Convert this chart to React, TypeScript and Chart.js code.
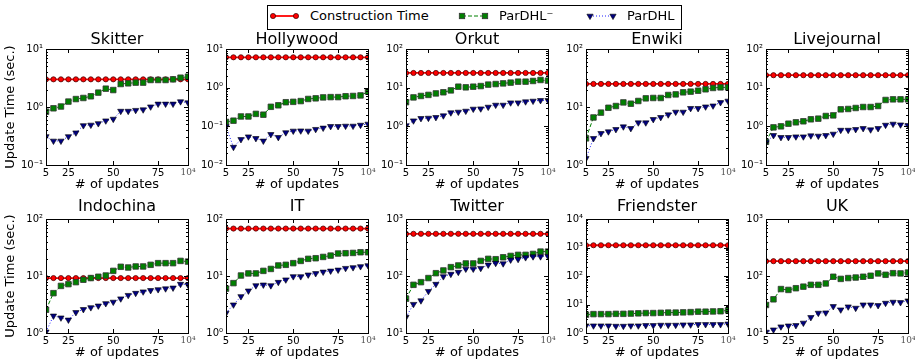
import React, { useEffect, useRef } from "react";
import { Chart, registerables } from "chart.js";
Chart.register(...registerables);
Chart.defaults.font.family = "'DejaVu Sans', sans-serif";
Chart.defaults.color = "#000";

// ---------- data ----------
const xValues = [5, 10, 15, 20, 25, 30, 35, 40, 45, 50, 55, 60, 65, 70, 75, 80, 85, 90, 95, 100];
const xTickValues = [5, 20, 50, 80, 100];
const xTickLabels = ["5", "25", "50", "75", "10⁴"];

const seriesNames = ["Construction Time", "ParDHL⁻", "ParDHL"];
const panelNames = ["Skitter", "Hollywood", "Orkut", "Enwiki", "Livejournal", "Indochina", "IT", "Twitter", "Friendster", "UK"];
const panelYMinExp = [-1, -2, -1, 0, -1, 0, 0, 1, 0, 1];
const panelYMaxExp = [1, 1, 2, 2, 2, 2, 2, 3, 4, 3];

const skitterBuild = [3.0, 3.0, 3.0, 3.0, 3.0, 3.0, 3.0, 3.0, 3.0, 3.0, 3.0, 3.0, 3.0, 3.0, 3.0, 3.0, 3.0, 3.0, 3.0, 3.0];
const skitterMinus = [0.83, 0.95, 1.02, 1.24, 1.37, 1.43, 1.53, 1.77, 2.07, 1.96, 2.49, 2.56, 2.63, 2.63, 2.92, 2.92, 2.92, 3.0, 3.2, 3.33];
const skitterFull = [0.31, 0.26, 0.26, 0.31, 0.36, 0.48, 0.49, 0.52, 0.58, 0.62, 0.85, 0.85, 0.88, 0.9, 1.01, 1.13, 1.13, 1.13, 1.24, 1.19];

const hollywoodBuild = [6.1, 6.1, 6.1, 6.1, 6.1, 6.1, 6.1, 6.1, 6.1, 6.1, 6.1, 6.1, 6.1, 6.1, 6.1, 6.1, 6.1, 6.1, 6.1, 6.1];
const hollywoodMinus = [0.13, 0.14, 0.18, 0.18, 0.21, 0.2, 0.32, 0.35, 0.42, 0.43, 0.45, 0.51, 0.53, 0.56, 0.57, 0.57, 0.6, 0.61, 0.63, 0.79];
const hollywoodFull = [0.098, 0.029, 0.046, 0.054, 0.049, 0.042, 0.062, 0.052, 0.069, 0.076, 0.077, 0.076, 0.084, 0.091, 0.1, 0.1, 0.102, 0.102, 0.108, 0.115];

const orkutBuild = [24, 24, 24, 24, 24, 24, 24, 24, 24, 24, 24, 24, 24, 24, 24, 24, 24, 24, 24, 24];
const orkutMinus = [4.2, 5.6, 6.1, 6.5, 7.1, 7.6, 8.5, 10.6, 10.2, 10.6, 11.0, 12.0, 12.4, 12.9, 13.5, 14.3, 14.3, 14.9, 15.8, 15.2];
const orkutFull = [1.04, 1.4, 1.61, 1.64, 1.71, 1.89, 2.26, 2.35, 2.49, 2.81, 2.86, 3.16, 3.56, 3.56, 4.09, 4.09, 4.35, 4.52, 4.7, 4.7];

const enwikiBuild = [25, 25, 25, 25, 25, 25, 25, 25, 25, 25, 25, 25, 25, 25, 25, 25, 25, 25, 25, 25];
const enwikiMinus = [2.88, 6.6, 8.0, 9.7, 10.4, 12.0, 11.4, 12.7, 14.1, 14.3, 14.3, 16.1, 16.5, 17.9, 18.4, 19.1, 20.2, 21.3, 21.8, 21.8];
const enwikiFull = [1.3, 2.88, 3.52, 3.76, 4.12, 4.58, 4.29, 5.37, 5.37, 6.13, 6.64, 7.38, 8.2, 8.2, 9.5, 9.5, 10.1, 10.5, 12.0, 12.7];

const livejournalBuild = [21, 21, 21, 21, 21, 21, 21, 21, 21, 21, 21, 21, 21, 21, 21, 21, 21, 21, 21, 21];
const livejournalMinus = [0.4, 0.94, 1.0, 1.17, 1.27, 1.35, 1.52, 1.58, 1.85, 1.92, 2.75, 2.81, 2.98, 3.16, 3.16, 3.36, 4.8, 4.99, 4.99, 4.99];
const livejournalFull = [0.38, 0.585, 0.52, 0.52, 0.54, 0.54, 0.574, 0.563, 0.585, 0.634, 0.8, 0.8, 0.836, 0.887, 0.82, 0.887, 1.08, 1.15, 1.1, 1.06];

const indochinaBuild = [9.2, 9.2, 9.2, 9.2, 9.2, 9.2, 9.2, 9.2, 9.2, 9.2, 9.2, 9.2, 9.2, 9.2, 9.2, 9.2, 9.2, 9.2, 9.2, 9.2];
const indochinaMinus = [2.56, 5.0, 6.7, 7.2, 7.8, 8.6, 9.2, 9.7, 10.2, 12.3, 14.5, 14.1, 14.7, 14.7, 15.7, 16.8, 16.8, 16.8, 18.4, 17.9];
const indochinaFull = [1.05, 2.0, 1.85, 1.7, 2.3, 2.6, 2.8, 3.0, 3.3, 3.5, 4.0, 4.6, 5.0, 5.3, 5.6, 5.8, 6.0, 6.2, 7.2, 7.0];

const itBuild = [68, 68, 68, 68, 68, 68, 68, 68, 68, 68, 68, 68, 68, 68, 68, 68, 68, 68, 68, 68];
const itMinus = [6.0, 7.5, 10.2, 11.1, 11.1, 12.3, 13.3, 15.3, 15.7, 16.8, 18.4, 20.0, 20.5, 21.6, 22.8, 24.8, 25.1, 25.4, 26.1, 26.1];
const itFull = [2.24, 3.13, 4.38, 5.5, 6.8, 7.0, 6.8, 7.8, 8.6, 9.8, 9.8, 10.5, 11.1, 11.8, 12.3, 12.8, 13.7, 14.1, 14.7, 15.3];

const twitterBuild = [550, 550, 550, 550, 550, 550, 550, 550, 550, 550, 550, 550, 550, 550, 550, 550, 550, 550, 550, 550];
const twitterMinus = [40, 70, 78, 92, 112, 125, 143, 153, 166, 166, 184, 200, 197, 213, 225, 235, 235, 244, 268, 268];
const twitterFull = [19, 32, 37, 54, 72, 98, 108, 117, 133, 133, 137, 157, 168, 165, 192, 197, 211, 219, 219, 222];

const friendsterBuild = [1200, 1200, 1200, 1200, 1200, 1200, 1200, 1200, 1200, 1200, 1200, 1200, 1200, 1200, 1200, 1200, 1200, 1200, 1200, 1200];
const friendsterMinus = [4.4, 4.6, 4.6, 4.6, 4.7, 4.7, 4.8, 4.9, 5.0, 5.0, 5.1, 5.2, 5.2, 5.3, 5.4, 5.6, 5.6, 5.7, 5.8, 6.2];
const friendsterFull = [1.8, 1.8, 1.8, 1.8, 1.75, 1.75, 1.8, 1.8, 1.85, 1.85, 1.9, 1.9, 1.9, 1.95, 1.95, 2.0, 2.0, 2.0, 2.0, 2.1];

const ukBuild = [182, 182, 182, 182, 182, 182, 182, 182, 182, 182, 182, 182, 182, 182, 182, 182, 182, 182, 182, 182];
const ukMinus = [31, 39, 59, 57, 61, 65, 70, 70, 74, 97, 89, 92, 94, 97, 101, 111, 105, 112, 111, 115];
const ukFull = [10.4, 11.4, 12.9, 13.4, 13.6, 15.0, 18.8, 22.4, 22.7, 29.3, 25.6, 28.9, 27.4, 31.3, 31.3, 30.5, 33.5, 34.9, 34.4, 36.8];

const panelBuild = [skitterBuild, hollywoodBuild, orkutBuild, enwikiBuild, livejournalBuild, indochinaBuild, itBuild, twitterBuild, friendsterBuild, ukBuild];
const panelMinus = [skitterMinus, hollywoodMinus, orkutMinus, enwikiMinus, livejournalMinus, indochinaMinus, itMinus, twitterMinus, friendsterMinus, ukMinus];
const panelFull = [skitterFull, hollywoodFull, orkutFull, enwikiFull, livejournalFull, indochinaFull, itFull, twitterFull, friendsterFull, ukFull];

// ---------- styling / layout ----------
const RED = "#ff0000";
const GREEN = "#008000";
const BLUE_LINE = "#2020ff";
const NAVY = "#000080";
const FONT = "'DejaVu Sans', sans-serif";

const Y_AXIS_W = 46;
const PLOT_W = 142;
const PAD_R = 12;
const X_AXIS_H = 27;
const TITLE_SIZE = 16;
const rowPlotTop = [49, 219];
const rowPlotH = [116, 114];
const rowTitlePad = [1, 4];

const SUP: Record<string, string> = { "-": "⁻", "0": "⁰", "1": "¹", "2": "²", "3": "³", "4": "⁴" };
function powLabel(v: number): string {
  const e = Math.round(Math.log10(v));
  return "10" + String(e).split("").map((c) => SUP[c] || c).join("");
}

const mplFrame = {
  id: "mplFrame",
  afterDatasetsDraw(chart: any) {
    const { ctx, chartArea: a, scales } = chart;
    const xs = scales.x;
    const ys = scales.y;
    ctx.save();
    ctx.strokeStyle = "#000";
    ctx.lineWidth = 1;
    ctx.beginPath();
    xTickValues.forEach((v) => {
      const px = Math.round(xs.getPixelForValue(v)) + 0.5;
      ctx.moveTo(px, a.bottom);
      ctx.lineTo(px, a.bottom - 4);
      ctx.moveTo(px, a.top);
      ctx.lineTo(px, a.top + 4);
    });
    const e0 = Math.round(Math.log10(ys.min));
    const e1 = Math.round(Math.log10(ys.max));
    for (let e = e0; e <= e1; e++) {
      for (let m = 1; m <= 9; m++) {
        if (e === e1 && m > 1) break;
        const v = m * Math.pow(10, e);
        const py = Math.round(ys.getPixelForValue(v)) + 0.5;
        const len = m === 1 ? 4 : 2;
        ctx.moveTo(a.left, py);
        ctx.lineTo(a.left + len, py);
        ctx.moveTo(a.right, py);
        ctx.lineTo(a.right - len, py);
      }
    }
    ctx.stroke();
    ctx.strokeRect(a.left + 0.5, a.top + 0.5, a.right - a.left, a.bottom - a.top);
    ctx.restore();
  },
};

function Panel({ idx }: { idx: number }) {
  const ref = useRef<HTMLCanvasElement>(null);
  const row = Math.floor(idx / 5);
  const col = idx % 5;
  const plotTop = rowPlotTop[row];
  const plotH = rowPlotH[row];
  const titlePad = rowTitlePad[row];
  const left = col * 180;
  const top = plotTop - TITLE_SIZE - titlePad;
  const width = Y_AXIS_W + PLOT_W + PAD_R;
  const height = TITLE_SIZE + titlePad + plotH + X_AXIS_H;

  useEffect(() => {
    const toXY = (arr: number[]) => arr.map((y, i) => ({ x: xValues[i], y }));
    const decades: number[] = [];
    for (let e = panelYMinExp[idx]; e <= panelYMaxExp[idx]; e++) decades.push(Math.pow(10, e));
    const chart = new Chart(ref.current as HTMLCanvasElement, {
      type: "line",
      data: {
        datasets: [
          {
            label: seriesNames[0],
            data: toXY(panelBuild[idx]),
            borderColor: RED,
            backgroundColor: RED,
            borderWidth: 1.8,
            pointStyle: "circle",
            pointRadius: 2.6,
            pointBorderColor: "#300",
            pointBorderWidth: 0.7,
            pointBackgroundColor: RED,
            order: 3,
            clip: 0,
          },
          {
            label: seriesNames[1],
            data: toXY(panelMinus[idx]),
            borderColor: GREEN,
            backgroundColor: GREEN,
            borderWidth: 1,
            borderDash: [4, 2],
            pointStyle: "rect",
            pointRadius: 3.9,
            pointBorderColor: "#333",
            pointBorderWidth: 0.8,
            pointBackgroundColor: GREEN,
            order: 2,
            clip: 0,
          },
          {
            label: seriesNames[2],
            data: toXY(panelFull[idx]),
            borderColor: BLUE_LINE,
            backgroundColor: NAVY,
            borderWidth: 1,
            borderDash: [1, 2],
            pointStyle: "triangle",
            pointRotation: 180,
            pointRadius: 3.6,
            pointBorderColor: "#000",
            pointBorderWidth: 0.6,
            pointBackgroundColor: NAVY,
            order: 1,
            clip: 0,
          },
        ],
      },
      options: {
        responsive: false,
        animation: false,
        devicePixelRatio: 1,
        layout: { padding: { left: 0, right: PAD_R, top: 0, bottom: 0 } },
        elements: { line: { tension: 0 } },
        plugins: {
          legend: { display: false },
          tooltip: { enabled: false },
          title: {
            display: true,
            text: panelNames[idx],
            fullSize: false,
            color: "#000",
            font: { family: FONT, size: TITLE_SIZE, weight: "normal", lineHeight: 1 },
            padding: { top: 0, bottom: titlePad },
          },
        },
        scales: {
          x: {
            type: "linear",
            min: 5,
            max: 100,
            afterFit: (s: any) => {
              s.height = X_AXIS_H;
            },
            afterBuildTicks: (s: any) => {
              s.ticks = xTickValues.map((v) => ({ value: v }));
            },
            grid: { display: false, drawTicks: false },
            border: { display: false },
            ticks: {
              autoSkip: false,
              maxRotation: 0,
              padding: 2,
              callback: (v: any) => xTickLabels[xTickValues.indexOf(Number(v))],
              font: (c: any) =>
                c.index === xTickValues.length - 1
                  ? { family: "'DejaVu Serif', serif", size: 9 }
                  : { family: FONT, size: 10 },
              color: (c: any) => (c.index === xTickValues.length - 1 ? "#555" : "#000"),
            },
            title: {
              display: true,
              text: "# of updates",
              color: "#000",
              font: { family: FONT, size: 13 },
              padding: 0,
            },
          },
          y: {
            type: "logarithmic",
            min: Math.pow(10, panelYMinExp[idx]),
            max: Math.pow(10, panelYMaxExp[idx]),
            afterFit: (s: any) => {
              s.width = Y_AXIS_W;
            },
            afterBuildTicks: (s: any) => {
              s.ticks = decades.map((v) => ({ value: v }));
            },
            grid: { display: false, drawTicks: false },
            border: { display: false },
            ticks: {
              autoSkip: false,
              padding: 3,
              font: { family: FONT, size: 10 },
              color: "#000",
              callback: (v: any) => powLabel(Number(v)),
            },
            title: {
              display: col === 0,
              text: "Update Time (sec.)",
              color: "#000",
              font: { family: FONT, size: 13 },
              padding: { top: 3, bottom: 0 },
            },
          },
        },
      } as any,
      plugins: [mplFrame],
    } as any);
    return () => chart.destroy();
  }, []);

  return (
    <canvas
      ref={ref}
      width={width}
      height={height}
      style={{ position: "absolute", left, top, width, height }}
    />
  );
}

function Legend() {
  const lx = 267;
  const ly = 5;
  const textStyle = (x: number): React.CSSProperties => ({
    position: "absolute",
    left: x - lx,
    top: 16 - ly - 9,
    height: 18,
    lineHeight: "18px",
    fontSize: 13,
    fontFamily: FONT,
    color: "#000",
    whiteSpace: "nowrap",
  });
  const tri = (cx: number, cy: number) =>
    `${cx - 3.1},${cy - 1.8} ${cx + 3.1},${cy - 1.8} ${cx},${cy + 3.6}`;
  const cy = 16 - ly;
  return (
    <div style={{ position: "absolute", left: lx, top: ly, width: 415, height: 25 }}>
      <svg width={415} height={25} style={{ position: "absolute", left: 0, top: 0 }}>
        <rect x={0.5} y={0.5} width={414} height={24} fill="#fff" stroke="#000" strokeWidth={1} />
        <line x1={6} y1={cy} x2={29} y2={cy} stroke={RED} strokeWidth={1.8} />
        <circle cx={6} cy={cy} r={2.6} fill={RED} stroke="#300" strokeWidth={0.7} />
        <circle cx={29} cy={cy} r={2.6} fill={RED} stroke="#300" strokeWidth={0.7} />
        <line x1={195} y1={cy} x2={218} y2={cy} stroke={GREEN} strokeWidth={1} strokeDasharray="4 2" />
        <rect x={192.3} y={cy - 2.7} width={5.4} height={5.4} fill={GREEN} stroke="#333" strokeWidth={0.8} />
        <rect x={215.3} y={cy - 2.7} width={5.4} height={5.4} fill={GREEN} stroke="#333" strokeWidth={0.8} />
        <line x1={323} y1={cy} x2={346} y2={cy} stroke={BLUE_LINE} strokeWidth={1} strokeDasharray="1 2" />
        <polygon points={tri(323, cy)} fill={NAVY} stroke="#000" strokeWidth={0.6} />
        <polygon points={tri(346, cy)} fill={NAVY} stroke="#000" strokeWidth={0.6} />
      </svg>
      <span style={textStyle(310)}>{seriesNames[0]}</span>
      <span style={textStyle(499)}>{seriesNames[1]}</span>
      <span style={textStyle(627)}>{seriesNames[2]}</span>
    </div>
  );
}

export default function App() {
  return (
    <div
      style={{
        position: "fixed",
        left: 0,
        top: 0,
        width: 915,
        height: 364,
        background: "#fff",
        overflow: "hidden",
      }}
    >
      {panelNames.map((_, i) => (
        <Panel key={i} idx={i} />
      ))}
      <Legend />
    </div>
  );
}
